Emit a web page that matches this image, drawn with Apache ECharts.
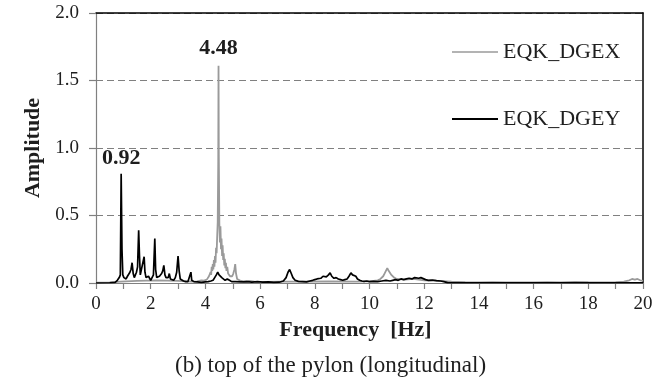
<!DOCTYPE html>
<html>
<head>
<meta charset="utf-8">
<script src="https://cdn.jsdelivr.net/npm/echarts@6/dist/echarts.min.js"></script>
<style>html,body{margin:0;padding:0;background:#fff}#c{width:671px;height:380px}</style>
</head>
<body>
<div id="c"></div>
<script>
// ---- data ----
var seriesNames = ['EQK_DGEX', 'EQK_DGEY'];
var xTicks = [0, 2, 4, 6, 8, 10, 12, 14, 16, 18, 20];
var yTicks = [0.0, 0.5, 1.0, 1.5, 2.0];
var peakFreqs = [0.92, 4.48];
var peakAmps = [0.81, 1.61];

// EQK_DGEX (grey)
var freqX = [0, 0.5, 0.9, 1.5, 2.2, 3.0, 3.5, 3.7, 3.85, 3.95, 4.05, 4.10, 4.13, 4.16, 4.19, 4.21, 4.23, 4.25, 4.27, 4.29, 4.31, 4.33, 4.35, 4.37, 4.39, 4.41, 4.43, 4.45, 4.47, 4.48, 4.49, 4.51, 4.53, 4.55, 4.57, 4.59, 4.61, 4.63, 4.65, 4.67, 4.69, 4.71, 4.73, 4.75, 4.77, 4.80, 4.83, 4.86, 4.90, 4.94, 4.98, 5.02, 5.06, 5.09, 5.12, 5.16, 5.22, 5.30, 5.40, 5.60, 5.80, 6.2, 6.8, 7.5, 8.5, 9.5, 10.0, 10.3, 10.4, 10.5, 10.55, 10.6, 10.65, 10.7, 10.75, 10.8, 10.9, 11.0, 11.3, 11.6, 12.0, 12.5, 13.0, 13.5, 14.0, 14.5, 15.0, 15.5, 16.0, 16.5, 17.0, 17.5, 18.0, 18.5, 19.0, 19.3, 19.5, 19.6, 19.7, 19.8, 19.9, 20.0];
var ampX  = [0.003, 0.004, 0.01, 0.015, 0.02, 0.015, 0.01, 0.012, 0.02, 0.018, 0.025, 0.03, 0.05, 0.04, 0.08, 0.06, 0.12, 0.09, 0.14, 0.10, 0.17, 0.12, 0.20, 0.15, 0.26, 0.22, 0.34, 0.45, 0.90, 1.61, 0.95, 0.44, 0.30, 0.42, 0.25, 0.33, 0.20, 0.28, 0.17, 0.22, 0.13, 0.18, 0.11, 0.15, 0.09, 0.12, 0.07, 0.08, 0.05, 0.04, 0.05, 0.07, 0.10, 0.14, 0.07, 0.03, 0.02, 0.015, 0.01, 0.015, 0.01, 0.008, 0.01, 0.01, 0.012, 0.01, 0.012, 0.02, 0.03, 0.05, 0.07, 0.08, 0.11, 0.09, 0.10, 0.06, 0.04, 0.03, 0.025, 0.03, 0.02, 0.015, 0.01, 0.006, 0.005, 0.006, 0.004, 0.005, 0.004, 0.006, 0.005, 0.008, 0.006, 0.005, 0.006, 0.01, 0.02, 0.03, 0.025, 0.03, 0.02, 0.015];

// EQK_DGEY (black)
var freqY = [0, 0.5, 0.7, 0.78, 0.85, 0.89, 0.92, 0.95, 0.98, 1.02, 1.06, 1.10, 1.15, 1.20, 1.24, 1.28, 1.32, 1.36, 1.40, 1.44, 1.48, 1.52, 1.56, 1.59, 1.62, 1.65, 1.68, 1.72, 1.76, 1.79, 1.83, 1.88, 1.92, 1.96, 2.00, 2.05, 2.10, 2.15, 2.18, 2.22, 2.27, 2.32, 2.36, 2.40, 2.44, 2.48, 2.52, 2.56, 2.60, 2.64, 2.68, 2.72, 2.78, 2.84, 2.90, 2.95, 3.00, 3.04, 3.08, 3.14, 3.20, 3.28, 3.36, 3.42, 3.47, 3.50, 3.58, 3.70, 3.85, 4.00, 4.10, 4.20, 4.28, 4.34, 4.40, 4.45, 4.50, 4.55, 4.60, 4.66, 4.72, 4.80, 4.88, 4.96, 5.10, 5.30, 5.50, 5.70, 5.90, 6.10, 6.30, 6.50, 6.70, 6.85, 6.95, 7.02, 7.08, 7.14, 7.20, 7.28, 7.40, 7.55, 7.70, 7.82, 7.92, 8.00, 8.08, 8.15, 8.22, 8.30, 8.36, 8.42, 8.50, 8.56, 8.62, 8.70, 8.78, 8.86, 8.94, 9.02, 9.10, 9.18, 9.25, 9.32, 9.38, 9.44, 9.50, 9.56, 9.64, 9.72, 9.80, 9.90, 10.00, 10.15, 10.30, 10.45, 10.60, 10.75, 10.85, 10.95, 11.05, 11.15, 11.25, 11.35, 11.45, 11.55, 11.65, 11.72, 11.80, 11.88, 11.95, 12.05, 12.15, 12.30, 12.45, 12.60, 12.72, 12.85, 13.0, 14.0, 16.0, 18.0, 20.0];
var ampY  = [0, 0.002, 0.005, 0.02, 0.04, 0.06, 0.81, 0.25, 0.06, 0.04, 0.05, 0.03, 0.05, 0.04, 0.08, 0.10, 0.15, 0.07, 0.04, 0.06, 0.08, 0.12, 0.39, 0.20, 0.06, 0.09, 0.10, 0.08, 0.195, 0.08, 0.04, 0.03, 0.05, 0.04, 0.02, 0.04, 0.06, 0.33, 0.10, 0.04, 0.03, 0.05, 0.04, 0.07, 0.09, 0.13, 0.06, 0.04, 0.05, 0.04, 0.07, 0.03, 0.02, 0.02, 0.04, 0.08, 0.20, 0.09, 0.03, 0.02, 0.015, 0.01, 0.01, 0.02, 0.08, 0.02, 0.01, 0.008, 0.005, 0.008, 0.01, 0.015, 0.02, 0.04, 0.06, 0.08, 0.06, 0.07, 0.04, 0.03, 0.02, 0.03, 0.02, 0.01, 0.01, 0.008, 0.01, 0.006, 0.01, 0.006, 0.008, 0.005, 0.006, 0.015, 0.04, 0.08, 0.10, 0.07, 0.04, 0.02, 0.012, 0.01, 0.008, 0.015, 0.02, 0.025, 0.03, 0.04, 0.035, 0.05, 0.04, 0.045, 0.06, 0.075, 0.05, 0.035, 0.04, 0.03, 0.025, 0.02, 0.025, 0.03, 0.05, 0.075, 0.06, 0.07, 0.05, 0.03, 0.02, 0.015, 0.012, 0.015, 0.01, 0.012, 0.01, 0.015, 0.02, 0.015, 0.02, 0.025, 0.02, 0.03, 0.025, 0.03, 0.035, 0.03, 0.04, 0.05, 0.035, 0.04, 0.03, 0.025, 0.02, 0.022, 0.018, 0.015, 0.01, 0.003, 0.002, 0.002, 0.002, 0.002, 0.002];

var xAxisName = 'Frequency  [Hz]';
var yAxisName = 'Amplitude';
var caption = '(b) top of the pylon (longitudinal)';

// ---- build ----
function pairs(f, a) { return f.map(function (v, i) { return [v, a[i]]; }); }
var serif = '"Liberation Serif", "Times New Roman", serif';
var txt = '#1e1e1e';

var chart = echarts.init(document.getElementById('c'), null, { renderer: 'canvas' });
chart.setOption({
  animation: false,
  backgroundColor: '#fff',
  grid: { left: 96, right: 28, top: 13, bottom: 97, containLabel: false },
  legend: [
    { data: [{ name: seriesNames[0], icon: 'rect' }], left: 447, top: 36, itemWidth: 46, itemHeight: 1.5, itemGap: 0,
      textStyle: { fontFamily: serif, fontSize: 22, color: txt, lineHeight: 22 }, selectedMode: false },
    { data: [{ name: seriesNames[1], icon: 'rect' }], left: 447, top: 103, itemWidth: 46, itemHeight: 1.8, itemGap: 0,
      textStyle: { fontFamily: serif, fontSize: 22, color: txt, lineHeight: 22 }, selectedMode: false }
  ],
  xAxis: [
    { type: 'value', min: 0, max: 20, interval: 1,
      name: xAxisName, nameLocation: 'middle', nameGap: 34,
      nameTextStyle: { fontFamily: serif, fontSize: 22, fontWeight: 'bold', color: txt, padding: [0, 28, 0, 0] },
      axisLine: { show: true, onZero: false, lineStyle: { color: '#808080', width: 1.2 } },
      axisTick: { show: true, inside: false, length: 6, lineStyle: { color: '#808080', width: 1.2 } },
      axisLabel: { margin: 12, fontFamily: serif, fontSize: 19, color: txt,
        formatter: function (v) { return xTicks.indexOf(v) >= 0 ? String(v) : ''; } },
      splitLine: { show: false } },
    { type: 'value', position: 'top', min: 0, max: 20,
      axisLine: { show: true, onZero: false, lineStyle: { color: '#000', width: 1.5 } },
      axisTick: { show: false }, axisLabel: { show: false }, splitLine: { show: false } }
  ],
  yAxis: [
    { type: 'value', min: 0, max: 2, interval: 0.5,
      name: yAxisName, nameLocation: 'middle', nameGap: 52,
      nameTextStyle: { fontFamily: serif, fontSize: 22, fontWeight: 'bold', color: txt },
      axisLine: { show: true, onZero: false, lineStyle: { color: '#808080', width: 1.2 } },
      axisTick: { show: true, inside: false, length: 7, lineStyle: { color: '#808080', width: 1.2 } },
      axisLabel: { margin: 17, fontFamily: serif, fontSize: 19, color: txt,
        formatter: function (v) { var i = yTicks.indexOf(v); return i >= 0 ? yTicks[i].toFixed(1) : ''; } },
      splitLine: { show: true, lineStyle: { color: '#808080', width: 1.2, type: [7, 4] } } },
    { type: 'value', position: 'right', min: 0, max: 2,
      axisLine: { show: true, onZero: false, lineStyle: { color: '#000', width: 1.5 } },
      axisTick: { show: false }, axisLabel: { show: false }, splitLine: { show: false } }
  ],
  series: [
    { name: seriesNames[0], type: 'line', xAxisIndex: 0, yAxisIndex: 0, data: pairs(freqX, ampX),
      symbol: 'none', lineStyle: { color: '#9a9a9a', width: 1.8 }, itemStyle: { color: '#9a9a9a' },
      markPoint: { symbol: 'circle', symbolSize: 1, itemStyle: { color: 'rgba(0,0,0,0)' },
        label: { show: true, position: 'top', distance: 6, fontFamily: serif, fontSize: 22, fontWeight: 'bold', color: txt,
          formatter: function (p) { return p.value; } },
        data: [{ coord: [peakFreqs[1], peakAmps[1]], value: peakFreqs[1].toFixed(2) }] } },
    { name: seriesNames[1], type: 'line', xAxisIndex: 0, yAxisIndex: 0, data: pairs(freqY, ampY),
      symbol: 'none', lineStyle: { color: '#000', width: 1.7 }, itemStyle: { color: '#000' },
      markPoint: { symbol: 'circle', symbolSize: 1, itemStyle: { color: 'rgba(0,0,0,0)' },
        label: { show: true, position: 'top', distance: 4, fontFamily: serif, fontSize: 22, fontWeight: 'bold', color: txt,
          formatter: function (p) { return p.value; } },
        data: [{ coord: [peakFreqs[0], peakAmps[0]], value: peakFreqs[0].toFixed(2) }] } }
  ],
  graphic: [
    { type: 'text', left: 175, top: 354, style: { text: caption, font: '23px "Liberation Serif", serif', fill: txt } }
  ]
});
</script>
</body>
</html>
